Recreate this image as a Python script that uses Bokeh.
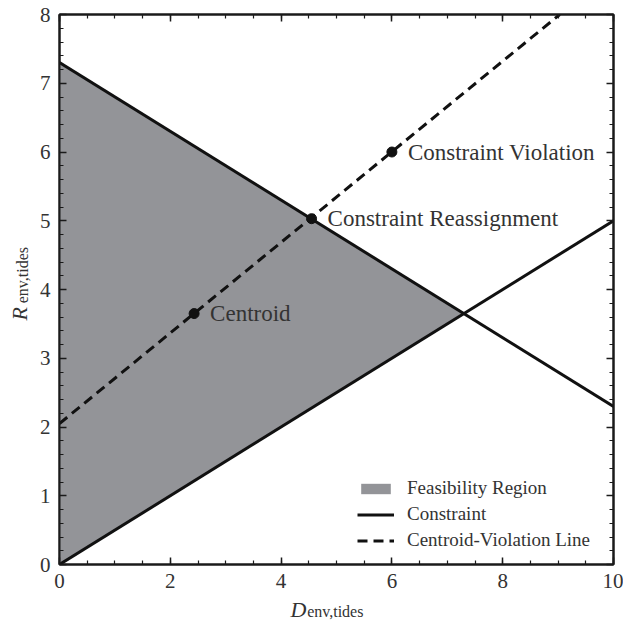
from bokeh.plotting import figure
from bokeh.layouts import column, row
from bokeh.models import (LinearAxis, SingleIntervalTicker, Legend, LegendItem,
                          ColumnDataSource, Range1d)
from bokeh.core.properties import value
from bokeh.embed import file_html
from bokeh.resources import INLINE

# ---- data ----
feas_x = [0.0, 0.0, 7.3]
feas_y = [0.0, 7.3, 3.65]
con1_x = [0.0, 10.0]
con1_y = [7.3, 2.3]
con2_x = [0.0, 10.0]
con2_y = [0.0, 5.0]
cv_x = [0.0, 9.03]
cv_y = [2.05, 8.0]
pt_names = ["Centroid", "Constraint Reassignment", "Constraint Violation"]
pt_x = [2.43, 4.55, 6.0]
pt_y = [3.65, 5.03, 6.0]
x_label_main, x_label_sub = "D", "env,tides"
y_label_main, y_label_sub = "R", "env,tides"

SERIF = "Liberation Serif"
TXT = "#333333"
GRAY = "#939498"
INK = "#111111"

p = figure(width=587, height=595, output_backend="svg", toolbar_location=None,
           x_range=Range1d(0, 10), y_range=Range1d(0, 8),
           min_border_left=22, min_border_right=10, min_border_top=14, min_border_bottom=31)
p.grid.visible = False
p.outline_line_color = "#1a1a1a"
p.outline_line_width = 2
p.background_fill_color = "white"
p.border_fill_color = "white"

def style_axis(ax, show_labels, standoff):
    ax.axis_line_color = "#1a1a1a"
    ax.axis_line_width = 2
    ax.major_tick_in = 7
    ax.major_tick_out = 0
    ax.minor_tick_in = 4
    ax.minor_tick_out = 0
    ax.major_tick_line_width = 1.5
    ax.minor_tick_line_width = 1.2
    ax.major_tick_line_color = "#1a1a1a"
    ax.minor_tick_line_color = "#1a1a1a"
    ax.major_label_text_font = SERIF
    ax.major_label_standoff = standoff
    ax.major_label_text_font_size = "21px"
    ax.major_label_text_color = TXT if show_labels else None

p.xaxis.ticker = SingleIntervalTicker(interval=2, num_minor_ticks=4)
p.yaxis.ticker = SingleIntervalTicker(interval=1, num_minor_ticks=5)
style_axis(p.xaxis[0], True, 9)
style_axis(p.yaxis[0], True, 9)
top = LinearAxis(ticker=SingleIntervalTicker(interval=2, num_minor_ticks=4))
right = LinearAxis(ticker=SingleIntervalTicker(interval=1, num_minor_ticks=5))
style_axis(top, False, 0)
style_axis(right, False, 0)
p.add_layout(top, "above")
p.add_layout(right, "right")

feas = p.patch(feas_x, feas_y, fill_color=GRAY, line_color=None)
c1 = p.line(con1_x, con1_y, line_color=INK, line_width=3)
p.line(con2_x, con2_y, line_color=INK, line_width=3)
cv = p.line(cv_x, cv_y, line_color=INK, line_width=3, line_dash="10 6")

src = ColumnDataSource(dict(x=pt_x, y=pt_y, name=pt_names))
p.scatter("x", "y", source=src, size=10, color=INK)
p.text("x", "y", text="name", source=src, x_offset=16, text_baseline="middle",
       text_font=value(SERIF), text_font_size="23px", text_color=TXT)

legend = Legend(items=[LegendItem(label="Feasibility Region", renderers=[feas]),
                       LegendItem(label="Constraint", renderers=[c1]),
                       LegendItem(label="Centroid-Violation Line", renderers=[cv])],
                location=(298, 11), padding=0, margin=0, spacing=0,
                label_height=26, glyph_height=13, glyph_width=37, label_standoff=13,
                label_text_font=SERIF, label_text_font_size="19px", label_text_color=TXT,
                border_line_alpha=0, background_fill_alpha=0)
p.add_layout(legend)

# ---- axis-label strips (share the main ranges) ----
def blank(fig):
    fig.axis.visible = False
    fig.grid.visible = False
    fig.outline_line_color = None
    fig.background_fill_color = "white"
    fig.border_fill_color = "white"

ylab = figure(width=36, height=595, output_backend="svg", toolbar_location=None,
              x_range=Range1d(0, 36), y_range=p.y_range,
              min_border_left=0, min_border_right=0, min_border_top=14, min_border_bottom=31)
blank(ylab)
ylab.text(x=[19], y=[3.55], text=[y_label_main], angle=1.5708, text_baseline="alphabetic",
          text_font=value(SERIF), text_font_style="italic", text_font_size="22px", text_color=TXT)
ylab.text(x=[22], y=[3.80], text=[y_label_sub], angle=1.5708, text_baseline="alphabetic",
          text_font=value(SERIF), text_font_size="16px", text_color=TXT)

xlab = figure(width=623, height=26, output_backend="svg", toolbar_location=None,
              x_range=p.x_range, y_range=Range1d(0, 26),
              min_border_left=58, min_border_right=10, min_border_top=0, min_border_bottom=0)
blank(xlab)
xlab.text(x=[4.18], y=[12], text=[x_label_main], text_baseline="alphabetic",
          text_font=value(SERIF), text_font_style="italic", text_font_size="22px", text_color=TXT)
xlab.text(x=[4.48], y=[10], text=[x_label_sub], text_baseline="alphabetic",
          text_font=value(SERIF), text_font_size="16px", text_color=TXT)

layout = column(row(ylab, p), xlab)
open("out.html", "w").write(file_html(layout, INLINE))
